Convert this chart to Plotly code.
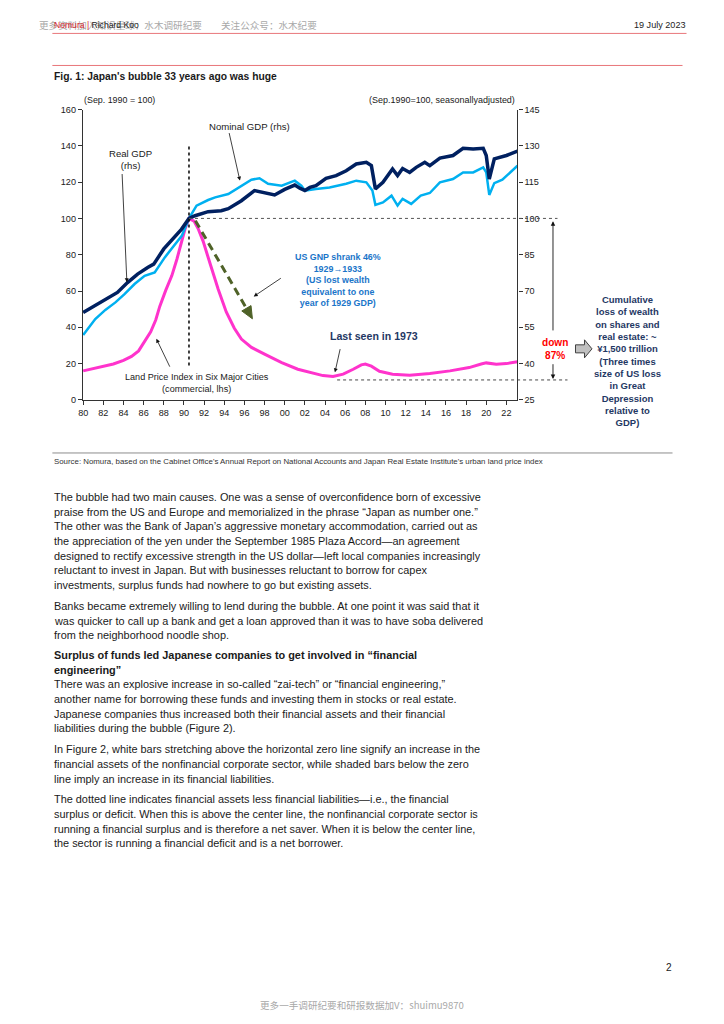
import plotly.graph_objects as go

PAGE_W, PAGE_H = 724, 1024
M = 8                      # browser body margin
W, H = PAGE_W - 2 * M, PAGE_H - 2 * M
FONT = "Liberation Sans, Arial, sans-serif"
CJK = "Noto Sans CJK SC, sans-serif"

# ---------------- data ----------------
# Real GDP, Sep.1990 = 100 (rhs)
real_gdp_t = [1980.0, 1980.75, 1981.4, 1982.4, 1983.4, 1984.4, 1985.4, 1986.4, 1987.0, 1988.0,
              1989.0, 1989.75, 1990.5, 1991.1, 1992.4, 1993.7, 1994.4, 1995.7, 1997.0, 1997.5,
              1998.0, 1999.0, 2000.0, 2001.0, 2001.5, 2002.0, 2002.5, 2003.1, 2004.1, 2005.1,
              2006.1, 2007.1, 2008.1, 2008.6, 2009.0, 2009.75, 2010.7, 2011.2, 2011.7, 2012.4,
              2013.05, 2013.9, 2014.4, 2015.4, 2016.7, 2017.7, 2018.7, 2019.7, 2020.0, 2020.3,
              2020.8, 2022.0, 2023.1]
real_gdp = [61.1, 63.0, 64.6, 66.9, 69.4, 73.5, 77.0, 79.7, 81.1, 87.4,
            92.2, 95.5, 100.0, 101.1, 102.8, 103.2, 104.0, 107.3, 111.5, 111.0,
            110.5, 109.7, 112.0, 113.8, 112.5, 111.5, 112.8, 113.5, 116.6, 117.7,
            119.7, 122.5, 123.2, 121.8, 112.2, 114.9, 120.4, 117.7, 120.6, 119.0,
            121.1, 123.2, 121.8, 124.9, 126.0, 129.0, 128.7, 129.0, 126.0, 116.3,
            124.6, 126.0, 127.8]

# Nominal GDP, Sep.1990 = 100 (rhs)
nominal_gdp_t = [1980.0, 1981.2, 1982.2, 1983.2, 1984.1, 1985.1, 1986.1, 1987.1, 1988.1, 1989.1,
                 1989.8, 1990.5, 1991.25, 1992.4, 1993.1, 1994.4, 1995.7, 1996.7, 1997.5, 1998.35,
                 1999.7, 2001.0, 2001.65, 2002.0, 2003.1, 2004.45, 2006.1, 2007.1, 2008.1, 2008.7,
                 2009.0, 2009.75, 2010.6, 2011.2, 2011.7, 2012.55, 2013.5, 2014.4, 2015.4, 2016.7,
                 2017.7, 2018.7, 2019.7, 2020.0, 2020.3, 2020.8, 2021.6, 2023.1]
nominal_gdp = [51.8, 58.4, 62.2, 65.3, 68.7, 72.9, 76.3, 77.7, 83.9, 89.0,
               92.9, 100.0, 105.3, 107.6, 108.7, 110.1, 113.5, 116.0, 116.6, 114.3,
               113.5, 115.6, 113.5, 111.5, 112.2, 112.8, 114.3, 115.6, 114.9, 111.5,
               105.6, 106.6, 109.4, 105.3, 108.1, 106.0, 109.4, 110.5, 114.9, 116.3,
               119.0, 119.0, 121.1, 119.0, 109.7, 114.6, 116.0, 121.8]

# Land price index in six major cities (commercial), Sep.1990 = 100 (lhs)
land_t = [1980.0, 1981.0, 1982.0, 1983.0, 1984.0, 1984.8, 1985.5, 1986.1, 1986.7, 1987.2,
          1987.6, 1988.2, 1988.8, 1989.3, 1989.7, 1990.1, 1990.5, 1991.0, 1991.4, 1991.9,
          1992.6, 1993.4, 1994.2, 1995.0, 1995.7, 1996.7, 1998.0, 1999.7, 2001.3, 2002.5,
          2003.8, 2004.8, 2005.8, 2006.8, 2007.6, 2008.0, 2008.6, 2009.4, 2010.7, 2012.4,
          2014.4, 2016.4, 2018.3, 2019.5, 2020.0, 2021.0, 2022.0, 2023.1]
land = [16.0, 17.2, 18.6, 19.8, 21.8, 24.0, 27.0, 32.0, 37.5, 44.0,
        51.5, 60.5, 68.5, 77.5, 86.0, 94.0, 100.0, 98.5, 94.5, 87.5,
        75.0, 61.0, 48.5, 39.5, 33.5, 28.9, 25.2, 20.6, 16.9, 15.1,
        13.4, 12.9, 14.2, 16.9, 19.3, 19.8, 18.6, 15.8, 14.2, 13.6,
        14.5, 16.0, 17.8, 19.8, 20.4, 19.7, 20.0, 21.0]

x_tickvals = [1980, 1982, 1984, 1986, 1988, 1990, 1992, 1994, 1996, 1998, 2000,
              2002, 2004, 2006, 2008, 2010, 2012, 2014, 2016, 2018, 2020, 2022]
x_ticktext = ["80", "82", "84", "86", "88", "90", "92", "94", "96", "98", "00",
              "02", "04", "06", "08", "10", "12", "14", "16", "18", "20", "22"]
left_ticks = [0, 20, 40, 60, 80, 100, 120, 140, 160]
right_ticks = [25, 40, 55, 70, 85, 100, 115, 130, 145]

peak_date = 1990.5          # Sep. 1990 = 100
last_seen_level = 11        # dotted floor level (lhs)
last_seen_from = 2005.2

# ---------------- geometry helpers (target picture pixel -> paper) ----------------
SX, OX = 0.9927, 4.7       # measured picture scale/offset of the page
SY, OY = 0.98875, 4.7
FS = 1.01                  # font compensation for that scale


def TX(x):
    return (x - OX) / SX


def TY(y):
    return (y - OY) / SY


def PX(x):
    return (TX(x) - M) / W


def PY(y):
    return 1 - (TY(y) - M) / H


XD = [PX(82.5), PX(517)]
YD = [PY(399), PY(109)]
XR = [1979.97, 2023.1]
YR = [0, 160]


def data_px(year):
    return XD[0] + (year - XR[0]) / (XR[1] - XR[0]) * (XD[1] - XD[0])


def data_py(v):
    return YD[0] + (v - YR[0]) / (YR[1] - YR[0]) * (YD[1] - YD[0])


fig = go.Figure()
fig.add_trace(go.Scatter(x=land_t, y=land, mode="lines", yaxis="y",
                         line=dict(color="#ff33cc", width=3), hoverinfo="skip"))
fig.add_trace(go.Scatter(x=nominal_gdp_t, y=nominal_gdp, mode="lines", yaxis="y2",
                         line=dict(color="#00b0f0", width=2.5), hoverinfo="skip"))
fig.add_trace(go.Scatter(x=real_gdp_t, y=real_gdp, mode="lines", yaxis="y2",
                         line=dict(color="#002060", width=3.5), hoverinfo="skip"))

ann = []


def txt(text, x, y, size, color="#1a1a1a", bold=False, xanchor="center", align="center",
        family=FONT):
    if bold:
        text = "<b>" + text + "</b>"
    ann.append(dict(text=text, x=PX(x), y=PY(y), xref="paper", yref="paper",
                    xanchor=xanchor, yanchor="middle", showarrow=False, align=align,
                    font=dict(size=size * FS, color=color, family=family)))


def arrow(x0, y0, x1, y1, width=0.8, head=2, size=1.0, color="#111111"):
    ann.append(dict(text="", x=PX(x1), y=PY(y1), xref="paper", yref="paper",
                    ax=TX(x0) - TX(x1), ay=TY(y0) - TY(y1), axref="pixel", ayref="pixel",
                    showarrow=True, arrowhead=head, arrowsize=size, arrowwidth=width,
                    arrowcolor=color, standoff=0, startstandoff=0))


# ---- page header ----
txt("更多资料加入知识星球：水木调研纪要　　关注公众号：水木纪要", 37, 25, 9.5,
    color="#a8a8a8", xanchor="left", family=CJK)
txt("<span style='color:#d8262e'>Nomura | </span>Richard Koo", 52, 25, 8.5,
    color="#222222", xanchor="left")
txt("19 July 2023", 686, 25, 9, color="#222222", xanchor="right")

# ---- figure title ----
txt("Fig. 1: Japan's bubble 33 years ago was huge", 52, 76, 10.2, bold=True, xanchor="left")
txt("(Sep. 1990 = 100)", 82, 99, 8.8, xanchor="left")
txt("(Sep.1990=100, seasonallyadjusted)", 517, 99, 8.9, xanchor="right")

# ---- chart annotations ----
txt("Nominal GDP (rhs)", 249, 125.5, 9.5)
arrow(228.5, 131.5, 239.5, 180)
txt("Real GDP<br>(rhs)", 130, 159, 9.5)
arrow(121.7, 173, 126.5, 281.5)
txt("Land Price Index in Six Major Cities<br>(commercial, lhs)", 197, 382.5, 9)
arrow(170, 367, 156, 338)
txt("US GNP shrank 46%<br>1929→1933<br>(US lost wealth<br>equivalent to one<br>year of 1929 GDP)",
    338, 279.2, 8.8, color="#1a75c9", bold=True)
arrow(281.7, 276.7, 253.3, 295.7)
txt("Last seen in 1973", 374, 335.5, 10.5, color="#1f3864", bold=True)
arrow(340, 347, 334.5, 371.5)
txt("down<br>87%", 555, 348, 10, color="#ff0000", bold=True)
arrow(552.5, 330, 552.5, 220.5, width=0.9)
arrow(552.5, 362, 552.5, 378, width=0.9)
txt("Cumulative<br>loss of wealth<br>on shares and<br>real estate: ~<br>¥1,500 trillion<br>"
    "(Three times<br>size of US loss<br>in Great<br>Depression<br>relative to<br>GDP)",
    627, 360.2, 9.4, color="#1f3864", bold=True)

# ---- source and body text ----
txt("Source: Nomura, based on the Cabinet Office's Annual Report on National Accounts and "
    "Japan Real Estate Institute's urban land price index", 52, 461, 7.8,
    color="#333333", xanchor="left")

paragraphs = [
    (496, False, [
        "The bubble had two main causes. One was a sense of overconfidence born of excessive",
        "praise from the US and Europe and memorialized in the phrase “Japan as number one.”",
        "The other was the Bank of Japan’s aggressive monetary accommodation, carried out as",
        "the appreciation of the yen under the September 1985 Plaza Accord—an agreement",
        "designed to rectify excessive strength in the US dollar—left local companies increasingly",
        "reluctant to invest in Japan. But with businesses reluctant to borrow for capex",
        "investments, surplus funds had nowhere to go but existing assets."]),
    (605, False, [
        "Banks became extremely willing to lend during the bubble. At one point it was said that it",
        "was quicker to call up a bank and get a loan approved than it was to have soba delivered",
        "from the neighborhood noodle shop."]),
    (654, True, [
        "Surplus of funds led Japanese companies to get involved in “financial",
        "engineering”"]),
    (683, False, [
        "There was an explosive increase in so-called “zai-tech” or “financial engineering,”",
        "another name for borrowing these funds and investing them in stocks or real estate.",
        "Japanese companies thus increased both their financial assets and their financial",
        "liabilities during the bubble (Figure 2)."]),
    (748, False, [
        "In Figure 2, white bars stretching above the horizontal zero line signify an increase in the",
        "financial assets of the nonfinancial corporate sector, while shaded bars below the zero",
        "line imply an increase in its financial liabilities."]),
    (798, False, [
        "The dotted line indicates financial assets less financial liabilities—i.e., the financial",
        "surplus or deficit. When this is above the center line, the nonfinancial corporate sector is",
        "running a financial surplus and is therefore a net saver. When it is below the center line,",
        "the sector is running a financial deficit and is a net borrower."]),
]
for y0, bold, lines in paragraphs:
    for i, line in enumerate(lines):
        txt(line, 52, y0 + i * 14.6, 10.8, bold=bold, xanchor="left")

txt("2", 668, 966, 10, color="#222222", xanchor="center")
txt("更多一手调研纪要和研报数据加V：shuimu9870", 258, 1003, 9.5, color="#a8a8a8",
    xanchor="left", family=CJK)

# ---------------- shapes ----------------
shapes = [
    # header rules
    dict(type="line", xref="paper", yref="paper", x0=PX(52), x1=PX(686), y0=PY(33), y1=PY(33),
         line=dict(color="#e8767a", width=1)),
    dict(type="line", xref="paper", yref="paper", x0=PX(52), x1=PX(682), y0=PY(65), y1=PY(65),
         line=dict(color="#e8767a", width=1)),
    # source rule
    dict(type="line", xref="paper", yref="paper", x0=PX(52), x1=PX(672), y0=PY(452), y1=PY(452),
         line=dict(color="#8c8c8c", width=1)),
    # Sep 1990 vertical dotted line
    dict(type="line", xref="x", yref="y", x0=peak_date, x1=peak_date, y0=19, y1=140,
         line=dict(color="#111111", width=1.6, dash="dot")),
    # 100 level dotted line
    dict(type="line", xref="paper", yref="paper", x0=data_px(peak_date), x1=PX(557),
         y0=data_py(100), y1=data_py(100), line=dict(color="#555555", width=1, dash="dot")),
    # floor dotted line
    dict(type="line", xref="paper", yref="paper", x0=data_px(last_seen_from), x1=PX(567),
         y0=data_py(last_seen_level), y1=data_py(last_seen_level),
         line=dict(color="#333333", width=0.9, dash="dot")),
    # green dashed arrow shaft
    dict(type="line", xref="paper", yref="paper", x0=PX(195), y0=PY(220), x1=PX(246), y1=PY(307.6),
         line=dict(color="#4f6228", width=3, dash="8px,5px")),
]


def path(points):
    return "M " + " L ".join(f"{PX(x):.5f},{PY(y):.5f}" for x, y in points) + " Z"


shapes.append(dict(type="path", xref="paper", yref="paper",
                   path=path([(252, 318), (250.6, 304.8), (241.4, 310.2)]),
                   fillcolor="#4f6228", line=dict(color="#4f6228", width=1)))
# grey block arrow
shapes.append(dict(type="path", xref="paper", yref="paper",
                   path=path([(575, 344), (584, 344), (584, 339), (591.5, 348), (584, 357),
                              (584, 352), (575, 352)]),
                   fillcolor="#c0c0c0", line=dict(color="#404040", width=1)))

axis_common = dict(showgrid=False, zeroline=False, showline=True, linecolor="#333333",
                   linewidth=1.2, ticks="outside", ticklen=4, tickcolor="#333333",
                   tickfont=dict(size=9 * FS, family=FONT, color="#1a1a1a"))

fig.update_layout(
    width=W, height=H, autosize=False,
    margin=dict(l=0, r=0, t=0, b=0),
    paper_bgcolor="white", plot_bgcolor="white",
    showlegend=False,
    xaxis=dict(domain=XD, range=XR, tickvals=x_tickvals, ticktext=x_ticktext, **axis_common),
    yaxis=dict(domain=YD, range=YR, tickvals=left_ticks, **axis_common),
    yaxis2=dict(overlaying="y", side="right", anchor="x", range=[25, 145],
                tickvals=right_ticks, **axis_common),
    annotations=ann,
    shapes=shapes,
)

fig.write_html("out.html", config={"displayModeBar": False, "responsive": False})
